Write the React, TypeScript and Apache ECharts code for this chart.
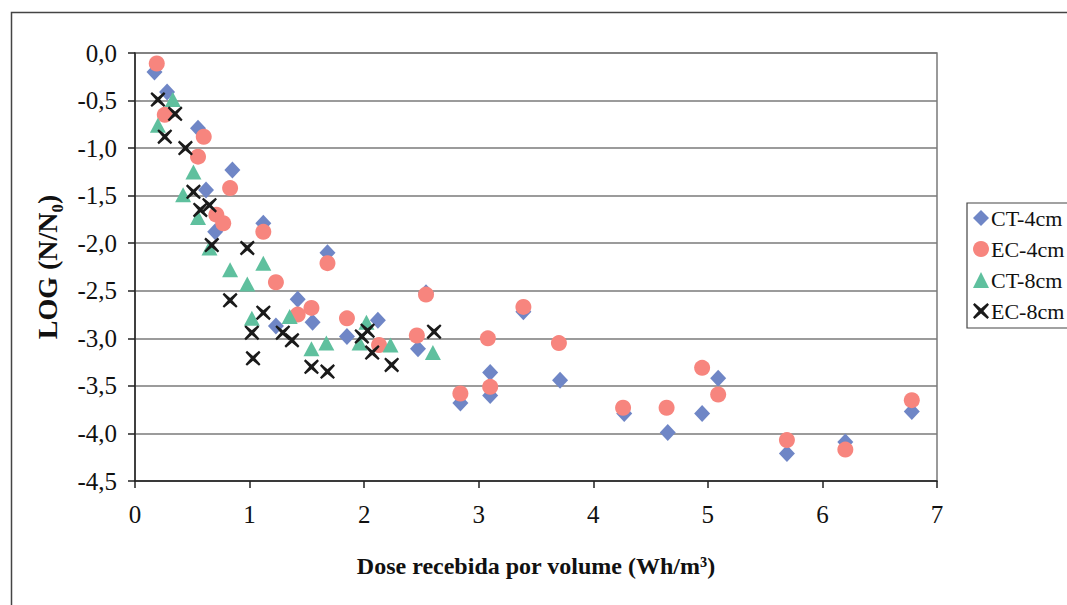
import React, { useEffect, useRef } from "react";
import * as echarts from "echarts";

const seriesNames = ["CT-4cm", "EC-4cm", "CT-8cm", "EC-8cm"];

const ct4X = [0.17, 0.28, 0.55, 0.62, 0.85, 0.70, 1.12, 1.68, 1.42, 1.55, 1.23, 1.85, 2.12, 2.47, 2.54, 3.10, 3.10, 2.84, 3.39, 3.71, 4.27, 4.65, 4.95, 5.09, 5.69, 6.20, 6.78];
const ct4Y = [-0.20, -0.41, -0.79, -1.44, -1.23, -1.88, -1.79, -2.10, -2.59, -2.83, -2.87, -2.98, -2.81, -3.11, -2.52, -3.36, -3.60, -3.68, -2.72, -3.44, -3.79, -3.99, -3.79, -3.42, -4.21, -4.09, -3.77];

const ec4X = [0.19, 0.26, 0.60, 0.55, 0.83, 0.71, 0.77, 1.12, 1.68, 1.23, 1.54, 1.42, 1.85, 2.13, 2.46, 2.54, 3.08, 3.39, 3.70, 2.84, 3.10, 4.26, 4.64, 4.95, 5.09, 5.69, 6.20, 6.78];
const ec4Y = [-0.11, -0.65, -0.88, -1.09, -1.42, -1.70, -1.79, -1.88, -2.21, -2.41, -2.68, -2.75, -2.79, -3.07, -2.97, -2.54, -3.00, -2.67, -3.05, -3.58, -3.51, -3.73, -3.73, -3.31, -3.59, -4.07, -4.17, -3.65];

const ct8X = [0.33, 0.20, 0.51, 0.42, 0.55, 0.65, 0.83, 1.12, 0.98, 1.02, 1.35, 1.54, 1.67, 2.02, 1.96, 2.23, 2.60];
const ct8Y = [-0.49, -0.76, -1.25, -1.49, -1.73, -2.05, -2.28, -2.21, -2.43, -2.79, -2.77, -3.11, -3.05, -2.83, -3.05, -3.07, -3.15];

const ec8X = [0.20, 0.35, 0.26, 0.44, 0.51, 0.57, 0.65, 0.67, 0.98, 0.83, 1.12, 1.02, 1.03, 1.29, 1.37, 1.54, 1.68, 1.98, 2.03, 2.07, 2.24, 2.61];
const ec8Y = [-0.49, -0.64, -0.88, -1.00, -1.46, -1.65, -1.60, -2.02, -2.05, -2.60, -2.73, -2.94, -3.21, -2.94, -3.02, -3.30, -3.35, -2.98, -2.92, -3.15, -3.28, -2.93];

const xTicks = [0, 1, 2, 3, 4, 5, 6, 7];
const yTicks = [0, -0.5, -1, -1.5, -2, -2.5, -3, -3.5, -4, -4.5];

const SERIF = "'Liberation Serif', 'Times New Roman', serif";
const X_SYMBOL =
  "path://M1,0L5,3.4L9,0L10,1.1L6.5,5L10,8.9L9,10L5,6.6L1,10L0,8.9L3.5,5L0,1.1Z";

const zip = (xs: number[], ys: number[]) => xs.map((x, i) => [x, ys[i]]);

export default function App() {
  const ref = useRef<HTMLDivElement>(null);
  useEffect(() => {
    if (!ref.current) return;
    const chart = echarts.init(ref.current, null, { renderer: "svg" });
    const fmt = (v: number) => (Math.abs(v) < 1e-9 ? "0,0" : v.toFixed(1).replace(".", ","));
    chart.setOption({
      animation: false,
      backgroundColor: "#ffffff",
      graphic: [
        {
          type: "rect",
          left: 9,
          top: 10,
          shape: { x: 0, y: 0, width: 1200, height: 700 },
          style: { fill: "none", stroke: "#444", lineWidth: 1.5 },
          silent: true,
        },
      ],
      grid: {
        left: 135,
        top: 53,
        right: 130,
        bottom: 124,
        show: true,
        borderColor: "#7a7a7a",
        borderWidth: 1.5,
      },
      legend: {
        orient: "vertical",
        left: 967,
        top: 203,
        padding: [4, 12, 6, 6],
        itemGap: 9,
        itemWidth: 16,
        itemHeight: 16,
        borderColor: "#444",
        borderWidth: 1.2,
        textStyle: { fontFamily: SERIF, fontSize: 22, color: "#111", padding: [0, 0, 0, -3] },
        data: seriesNames,
      },
      xAxis: {
        type: "value",
        min: xTicks[0],
        max: xTicks[xTicks.length - 1],
        interval: 1,
        name: "Dose recebida por volume (Wh/m³)",
        nameLocation: "middle",
        nameGap: 73,
        nameTextStyle: { fontFamily: SERIF, fontSize: 24, fontWeight: "bold", color: "#111" },
        axisLine: { onZero: false, lineStyle: { color: "#222", width: 1.5 } },
        axisTick: { show: true, length: 7, lineStyle: { color: "#222", width: 1.5 } },
        axisLabel: { fontFamily: SERIF, fontSize: 25, color: "#111", margin: 21 },
        splitLine: { show: false },
      },
      yAxis: {
        type: "value",
        min: yTicks[yTicks.length - 1],
        max: yTicks[0],
        interval: 0.5,
        name: "LOG (N/N₀)",
        nameLocation: "middle",
        nameGap: 74,
        nameTextStyle: { fontFamily: SERIF, fontSize: 28, fontWeight: "bold", color: "#111" },
        axisLine: { onZero: false, lineStyle: { color: "#222", width: 1.5 } },
        axisTick: { show: true, length: 7, lineStyle: { color: "#222", width: 1.5 } },
        axisLabel: { fontFamily: SERIF, fontSize: 25, color: "#111", margin: 18, formatter: fmt },
        splitLine: { show: true, lineStyle: { color: "#7a7a7a", width: 1.5 } },
      },
      series: [
        {
          name: seriesNames[0],
          type: "scatter",
          symbol: "diamond",
          symbolSize: [16, 17],
          itemStyle: { color: "#6f86c6", opacity: 1 },
          data: zip(ct4X, ct4Y),
        },
        {
          name: seriesNames[1],
          type: "scatter",
          symbol: "circle",
          symbolSize: 16,
          itemStyle: { color: "#f7857e", opacity: 1 },
          data: zip(ec4X, ec4Y),
        },
        {
          name: seriesNames[2],
          type: "scatter",
          symbol: "triangle",
          symbolSize: [16, 15],
          itemStyle: { color: "#5fc09e", opacity: 1 },
          data: zip(ct8X, ct8Y),
        },
        {
          name: seriesNames[3],
          type: "scatter",
          symbol: X_SYMBOL,
          symbolSize: 15,
          itemStyle: { color: "#1a1a1a", opacity: 1 },
          data: zip(ec8X, ec8Y),
        },
      ],
    });
    return () => chart.dispose();
  }, []);
  return (
    <div
      ref={ref}
      style={{ position: "absolute", left: 0, top: 0, width: 1067, height: 605, background: "#fff" }}
    />
  );
}
